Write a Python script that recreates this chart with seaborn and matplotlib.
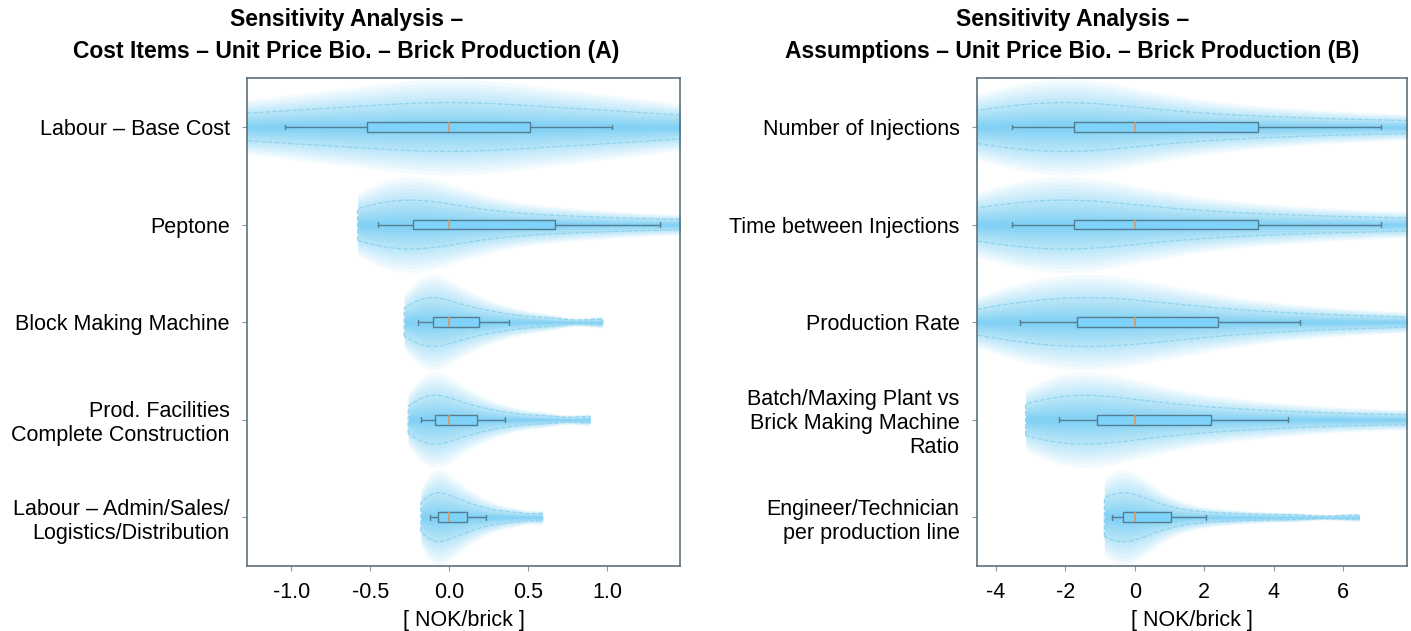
import pandas as pd
import matplotlib
matplotlib.use("Agg")
import matplotlib.pyplot as plt
import numpy as np
import seaborn as sns

# items for the two panels (top to bottom)
items_a = ["Labour \u2013 Base Cost", "Peptone", "Block Making Machine",
           "Prod. Facilities\nComplete Construction",
           "Labour \u2013 Admin/Sales/\nLogistics/Distribution"]
items_b = ["Number of Injections", "Time between Injections", "Production Rate",
           "Batch/Maxing Plant vs\nBrick Making Machine\nRatio",
           "Engineer/Technician\nper production line"]

# box stats: whisker low, q1, median, q3, whisker high
box_a = [[-1.04, -0.52, 0.0, 0.51, 1.03],
         [-0.45, -0.23, 0.0, 0.67, 1.33],
         [-0.20, -0.10, 0.0, 0.19, 0.38],
         [-0.18, -0.09, 0.0, 0.175, 0.35],
         [-0.125, -0.07, 0.0, 0.115, 0.235]]
box_b = [[-3.53, -1.75, 0.0, 3.56, 7.10],
         [-3.53, -1.75, 0.0, 3.56, 7.10],
         [-3.30, -1.67, 0.0, 2.40, 4.75],
         [-2.18, -1.08, 0.0, 2.20, 4.41],
         [-0.67, -0.34, 0.0, 1.04, 2.06]]

# points spread along each distribution (estimated), used for the violin shapes
dist_a = [[-2.0, -1.6, -1.3, -1.1, -0.9, -0.7, -0.55, -0.4, -0.25, -0.1, 0.0, 0.1, 0.25, 0.4,
           0.55, 0.7, 0.9, 1.1, 1.3, 1.6, 2.0],
          [-0.58, -0.5, -0.45, -0.4, -0.35, -0.3, -0.26, -0.2, -0.14, -0.07, 0.0, 0.1, 0.22,
           0.36, 0.52, 0.7, 0.9, 1.15, 1.45, 1.8, 2.3],
          [-0.285, -0.25, -0.21, -0.18, -0.15, -0.12, -0.1, -0.07, -0.04, 0.0, 0.04, 0.09,
           0.14, 0.2, 0.27, 0.36, 0.48, 0.65, 0.97],
          [-0.26, -0.22, -0.19, -0.16, -0.13, -0.11, -0.09, -0.06, -0.03, 0.0, 0.04, 0.08,
           0.13, 0.18, 0.25, 0.33, 0.45, 0.62, 0.89],
          [-0.18, -0.15, -0.13, -0.11, -0.09, -0.07, -0.05, -0.03, 0.0, 0.03, 0.06, 0.09,
           0.13, 0.18, 0.24, 0.32, 0.43, 0.59]]
dist_b = [[-6.0, -5.0, -4.3, -3.7, -3.2, -2.8, -2.4, -2.0, -1.6, -1.2, -0.7, -0.2, 0.4, 1.1,
           1.9, 2.8, 3.8, 5.0, 6.4, 8.0, 10.0],
          [-6.0, -5.0, -4.3, -3.7, -3.2, -2.8, -2.4, -2.0, -1.6, -1.2, -0.7, -0.2, 0.4, 1.1,
           1.9, 2.8, 3.8, 5.0, 6.4, 8.0, 10.0],
          [-4.9, -4.2, -3.6, -3.1, -2.6, -2.2, -1.8, -1.4, -1.0, -0.6, -0.2, 0.3, 0.8, 1.4,
           2.0, 2.8, 3.7, 4.8, 6.2, 8.0],
          [-3.15, -2.8, -2.5, -2.2, -1.9, -1.6, -1.3, -1.0, -0.6, -0.2, 0.3, 0.8, 1.4, 2.1,
           2.9, 3.8, 4.9, 6.3, 8.0, 10.0],
          [-0.88, -0.8, -0.72, -0.65, -0.58, -0.5, -0.42, -0.33, -0.22, -0.1, 0.05, 0.22,
           0.45, 0.75, 1.1, 1.6, 2.3, 3.2, 4.5, 6.47]]

ticks_a = [-1.0, -0.5, 0.0, 0.5, 1.0]
ticks_b = [-4, -2, 0, 2, 4, 6]

titles = ["Sensitivity Analysis \u2013\nCost Items \u2013 Unit Price Bio. \u2013 Brick Production (A)",
          "Sensitivity Analysis \u2013\nAssumptions \u2013 Unit Price Bio. \u2013 Brick Production (B)"]

glow = "#3fbdf5"
box_face = "#7fd3fa"
edge = "#557d91"
spine = "#4f6672"

sns.set_style("white")
plt.rcParams["font.family"] = ["Liberation Sans", "DejaVu Sans"]
plt.rcParams["axes.unicode_minus"] = False
plt.rcParams["text.color"] = "black"
plt.rcParams["axes.labelcolor"] = "black"
plt.rcParams["xtick.labelcolor"] = "black"
plt.rcParams["ytick.labelcolor"] = "black"


def long_df(items, values):
    rows = []
    for name, vals in zip(items, values):
        for v in vals:
            rows.append((name, v))
    return pd.DataFrame(rows, columns=["item", "value"])


fig = plt.figure(figsize=(14.11, 6.31), dpi=100)
ax_a = fig.add_axes([0.175, 0.103, 0.307, 0.773])
ax_b = fig.add_axes([0.6924, 0.103, 0.3048, 0.773])

panels = [(ax_a, items_a, box_a, dist_a, ticks_a, (-1.28, 1.46), 0.6, "%.1f"),
          (ax_b, items_b, box_b, dist_b, ticks_b, (-4.55, 7.84), 0.6, "%d")]

# glow layer widths, packed more densely towards the centre line
glow_widths = 0.98 * np.linspace(1, 0.2, 16) ** 1.6

for ax, items, box, dist, ticks, xlim, bwa, fmt in panels:
    vdf = long_df(items, dist)
    bdf = long_df(items, box)

    # soft glow: stacked translucent violins getting narrower towards the centre
    for w in glow_widths:
        sns.violinplot(data=vdf, x="value", y="item", order=items, orient="h",
                       width=w, cut=0, bw_adjust=bwa, density_norm="width",
                       inner=None, color=glow, saturation=1, linewidth=0,
                       alpha=0.06, ax=ax)

    # dashed outline
    sns.violinplot(data=vdf, x="value", y="item", order=items, orient="h",
                   width=0.5, cut=0, bw_adjust=bwa, density_norm="width",
                   inner=None, color=glow, saturation=1, linewidth=0.9,
                   facecolor="none", edgecolor="#8fd3ef", linestyle="--", ax=ax)

    sns.boxplot(data=bdf, x="value", y="item", order=items, orient="h",
                whis=(0, 100), width=0.1, color=box_face, saturation=1,
                linecolor=edge, linewidth=1, showfliers=False,
                medianprops=dict(color="#d99a5e", linewidth=1.2), ax=ax)

    ax.set_xlim(*xlim)
    ax.set_ylim(4.5, -0.5)
    ax.set_xticks(ticks)
    ax.set_xticklabels([fmt % t for t in ticks])
    ax.set_ylabel("")
    ax.set_xlabel("[ NOK/brick ]", fontsize=15.5, labelpad=5)
    ax.tick_params(axis="both", labelsize=15.5, length=3.5, color="#8a9aa3",
                   direction="out", left=True, bottom=True)
    ax.tick_params(axis="y", pad=9)
    ax.tick_params(axis="x", pad=8)
    for lab in ax.get_yticklabels():
        lab.set_linespacing(1.2)
    for s in ax.spines.values():
        s.set_visible(True)
        s.set_color(spine)
        s.set_linewidth(1.1)

fig.text(0.2455, 0.987, titles[0], ha="center", va="top", fontsize=16.5,
         fontweight="bold", linespacing=1.5)
fig.text(0.7600, 0.987, titles[1], ha="center", va="top", fontsize=16.5,
         fontweight="bold", linespacing=1.5)

fig.savefig("out.png", dpi=100)
